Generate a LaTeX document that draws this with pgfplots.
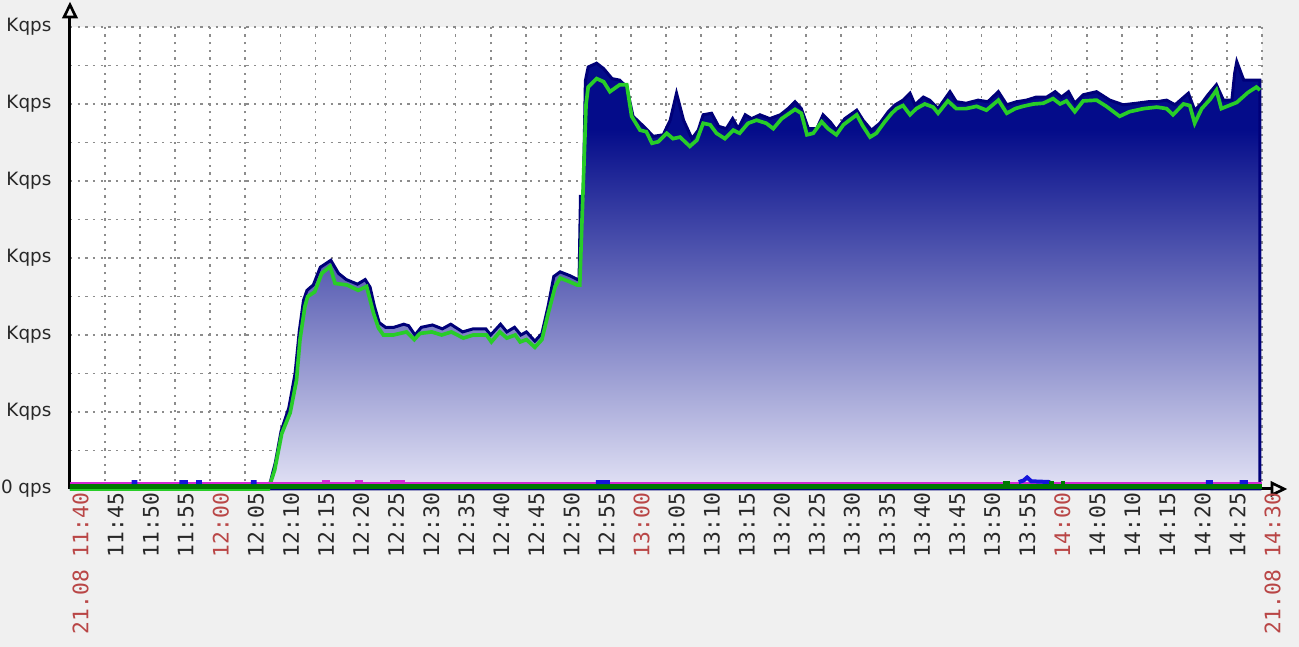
\documentclass[border=0pt]{standalone}
\usepackage{pgfplots}
\pgfplotsset{compat=1.18}
\usepackage{fontspec}
\setmainfont{DejaVu Sans}
\newfontfamily\monofont{DejaVu Sans Mono}
\usetikzlibrary{arrows.meta,backgrounds}
\definecolor{bgc}{RGB}{240,240,240}
\definecolor{znavy}{RGB}{4,12,138}
\definecolor{zedge}{RGB}{0,0,120}
\definecolor{zlow}{RGB}{226,226,245}
\definecolor{zgreen}{RGB}{40,205,40}
\definecolor{zdgreen}{RGB}{0,120,0}
\definecolor{zmag}{RGB}{210,40,210}
\definecolor{zblue}{RGB}{20,20,220}
\definecolor{zred}{RGB}{185,70,70}
\definecolor{ztxt}{RGB}{40,40,40}
\definecolor{zgrid}{RGB}{140,140,140}
\pgfdeclareverticalshading{zbx}{100bp}{color(0bp)=(zlow); color(25bp)=(zlow); color(67bp)=(znavy); color(100bp)=(znavy)}
\begin{document}
\begin{tikzpicture}
\begin{axis}[
  scale only axis,
  width=357.6pt, height=138.6pt,
  xmin=0, xmax=170, ymin=0, ymax=6,
  clip=false,
  axis x line=bottom, axis y line=left,
  axis line style={line width=0.9pt, black, -{Triangle[open,length=5pt,width=4.6pt,line width=0.8pt]}, shorten >=-7.6pt},
  axis background/.style={fill=white},
  xtick={0,5,...,170},
  xticklabels={\textcolor{zred}{21.08 11:40},11:45,11:50,11:55,\textcolor{zred}{12:00},12:05,12:10,12:15,12:20,12:25,12:30,12:35,12:40,12:45,12:50,12:55,\textcolor{zred}{13:00},13:05,13:10,13:15,13:20,13:25,13:30,13:35,13:40,13:45,13:50,13:55,\textcolor{zred}{14:00},14:05,14:10,14:15,14:20,14:25,\textcolor{zred}{21.08 14:30}},
  x tick label style={rotate=90, anchor=east, font=\monofont\fontsize{6.4}{7}\selectfont, text=ztxt, inner sep=1pt, yshift=-3.2pt},
  ytick={0,1,2,3,4,5,6},
  yticklabels={0 qps,Kqps,Kqps,Kqps,Kqps,Kqps,Kqps},
  y tick label style={font=\fontsize{5.5}{6}\selectfont, text=ztxt, inner sep=1pt, xshift=-4.4pt},
  minor y tick num=1,
  major tick length=0pt, minor tick length=0pt,
  xmajorgrids, ymajorgrids, yminorgrids,
  major grid style={zgrid, line width=0.5pt, dash pattern=on 0.7pt off 1.6pt},
  minor grid style={zgrid, line width=0.5pt, dash pattern=on 0.7pt off 1.6pt},
]
\coordinate (bl) at (rel axis cs:0,0);
\coordinate (tr) at (rel axis cs:1,1);
% max (area with gradient)
\addplot[draw=zedge, line width=0.9pt, shade, shading=zbx] coordinates {
(0,0) (28.2,0) (28.6,0.1) (29.3,0.35) (30.1,0.75) (31.2,1.05) (32.1,1.5) (32.7,2.05) (33.3,2.45) (33.8,2.58) (34.7,2.65) (35.7,2.88) (37.2,2.97) (38.3,2.8) (39.4,2.72) (41.0,2.66) (42.1,2.72) (42.8,2.62) (43.4,2.38) (44.1,2.16) (45.0,2.1) (46.2,2.1) (47.6,2.14) (48.3,2.12) (49.2,2.0) (50.1,2.1) (51.7,2.13) (53.1,2.08) (54.3,2.14) (56.0,2.04) (57.5,2.08) (59.3,2.08) (60.0,2.0) (61.4,2.14) (62.3,2.04) (63.4,2.1) (64.3,2.0) (65.1,2.04) (66.3,1.92) (67.3,2.02) (68.2,2.38) (69.0,2.76) (69.9,2.82) (71.3,2.77) (72.4,2.72) (72.6,2.72) (72.8,3.8) (73.2,3.8) (73.5,5.3) (73.9,5.48) (75.1,5.53) (76.1,5.46) (77.3,5.33) (78.4,5.31) (79.4,5.22) (80.3,4.84) (81.8,4.71) (83.2,4.58) (84.6,4.6) (85.6,4.79) (86.5,5.14) (87.5,4.79) (88.7,4.55) (89.6,4.66) (90.3,4.86) (91.5,4.88) (92.5,4.71) (93.6,4.68) (94.5,4.81) (95.3,4.68) (96.3,4.86) (97.2,4.81) (98.4,4.86) (99.8,4.81) (101.3,4.86) (102.4,4.94) (103.4,5.03) (104.3,4.94) (105.3,4.68) (106.5,4.68) (107.4,4.86) (108.4,4.77) (109.3,4.66) (110.5,4.81) (112.2,4.92) (113.1,4.79) (114.3,4.66) (115.5,4.75) (116.7,4.9) (117.7,4.99) (118.8,5.05) (119.8,5.14) (120.5,4.99) (121.7,5.09) (122.6,5.05) (123.8,4.94) (125.5,5.16) (126.4,5.03) (127.8,5.01) (129.5,5.05) (130.9,5.03) (132.4,5.16) (133.6,4.99) (135.0,5.03) (136.4,5.05) (137.8,5.09) (139.3,5.09) (140.5,5.16) (141.4,5.09) (142.4,5.16) (143.3,5.01) (144.5,5.12) (146.4,5.16) (148.3,5.05) (150.2,4.99) (152.1,5.01) (153.8,5.03) (155.0,5.03) (156.4,5.05) (157.6,4.99) (159.5,5.14) (160.4,4.92) (161.4,5.01) (162.3,5.12) (163.5,5.25) (164.5,5.05) (165.7,5.05) (166.1,5.4) (166.4,5.55) (167.1,5.38) (167.4,5.31) (169.7,5.31)
} \closedcycle;
% avg (green line)
\addplot[zgreen, line width=1.1pt] coordinates {
(0,0) (28.3,0) (28.5,0.05) (29.2,0.25) (30.2,0.72) (31.4,0.99) (32.3,1.41) (32.8,1.94) (33.5,2.37) (33.9,2.5) (34.9,2.56) (35.9,2.8) (37.1,2.89) (37.8,2.67) (39.5,2.65) (41.1,2.58) (42.3,2.63) (43.3,2.28) (44.0,2.09) (44.7,2.0) (46.1,2.0) (48.0,2.04) (49.1,1.94) (49.9,2.02) (51.6,2.04) (53.0,2.0) (54.4,2.04) (56.1,1.96) (57.5,2.0) (59.4,2.0) (60.1,1.91) (61.3,2.04) (62.3,1.96) (63.5,2.0) (64.2,1.91) (65.1,1.94) (66.3,1.84) (67.3,1.94) (68.2,2.28) (69.2,2.63) (69.9,2.74) (71.3,2.69) (72.3,2.65) (72.7,2.65) (73.6,5.0) (73.9,5.22) (75.1,5.33) (76.1,5.29) (77.0,5.16) (78.4,5.25) (79.4,5.25) (80.1,4.84) (81.3,4.66) (82.2,4.64) (83.0,4.49) (83.9,4.51) (85.1,4.62) (86.0,4.55) (87.0,4.57) (88.4,4.45) (89.4,4.53) (90.3,4.75) (91.3,4.73) (92.2,4.62) (93.4,4.55) (94.6,4.66) (95.5,4.62) (96.7,4.75) (97.9,4.79) (99.3,4.75) (100.3,4.68) (101.5,4.81) (103.4,4.93) (104.3,4.88) (105.1,4.6) (106.0,4.62) (107.2,4.77) (108.1,4.68) (109.3,4.6) (110.3,4.73) (112.2,4.86) (113.1,4.71) (114.1,4.57) (115.0,4.62) (116.2,4.77) (117.2,4.88) (117.9,4.94) (118.8,4.98) (119.8,4.86) (120.7,4.94) (121.9,5.0) (123.1,4.96) (123.8,4.88) (125.2,5.04) (126.4,4.94) (127.8,4.94) (129.3,4.97) (130.7,4.92) (132.4,5.05) (133.6,4.88) (134.8,4.94) (135.9,4.97) (137.4,5.0) (138.8,5.01) (140.2,5.07) (141.2,5.0) (142.1,5.04) (143.3,4.9) (144.5,5.04) (146.4,5.05) (147.8,4.97) (149.7,4.84) (151.1,4.9) (153.1,4.94) (155.0,4.96) (156.4,4.94) (157.3,4.86) (158.8,5.0) (159.7,4.98) (160.4,4.75) (161.4,4.94) (162.6,5.06) (163.5,5.18) (164.2,4.94) (166.4,5.02) (168.0,5.15) (169.2,5.22) (169.7,5.18)
};
% zero-level series
\addplot[zdgreen, line width=1.4pt] coordinates {(0,0.03) (170,0.03)};
\addplot[zmag, line width=0.5pt] coordinates {(0,0.08) (170,0.08)};
\addplot[zmag, line width=1.2pt, unbounded coords=jump] coordinates {
(35.9,0.09) (37.1,0.09) (37.2,nan) (40.6,0.09) (41.8,0.09) (41.9,nan) (45.7,0.09) (47.8,0.09)};
\addplot[zblue, line width=1.2pt, unbounded coords=jump] coordinates {
(8.8,0.09) (9.6,0.09) (9.7,nan) (15.6,0.09) (16.8,0.09) (16.9,nan) (18.0,0.09) (18.8,0.09) (18.9,nan) (25.8,0.09) (26.6,0.09) (26.7,nan) (75.0,0.09) (77.0,0.09) (77.1,nan) (135.3,0.09) (136.0,0.11) (136.5,0.15) (137.1,0.1) (139.8,0.09) (140.0,nan) (162.0,0.09) (163.0,0.09) (163.1,nan) (166.8,0.09) (168.0,0.09)};
\addplot[zdgreen, line width=1.0pt, unbounded coords=jump] coordinates {
(133.0,0.08) (134.0,0.08) (134.1,nan) (139.6,0.08) (140.3,0.08) (140.4,nan) (141.3,0.08) (141.9,0.08)};
\end{axis}
\begin{scope}[on background layer]
\fill[bgc] ([shift={(-21pt,-47.4pt)}]bl) rectangle ([shift={(11.1pt,8.1pt)}]tr);
\end{scope}
\pgfresetboundingbox
\path ([shift={(-21pt,-47.4pt)}]bl) rectangle ([shift={(11.1pt,8.1pt)}]tr);
\end{tikzpicture}
\end{document}
